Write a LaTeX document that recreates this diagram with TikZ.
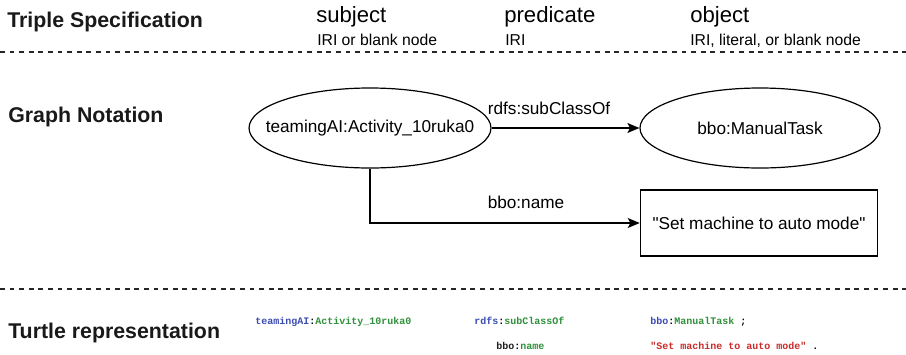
\documentclass[tikz,border=0pt]{standalone}
\usepackage{fontspec}
\setmainfont{Liberation Sans}
\setmonofont{Liberation Mono}
\usetikzlibrary{arrows.meta,positioning,shapes.geometric}
\definecolor{ttlblue}{HTML}{3A4BB2}
\definecolor{ttlgreen}{HTML}{2F8F3A}
\definecolor{ttlred}{HTML}{C92A2A}
\definecolor{ttlblack}{HTML}{1E1E1E}
\tikzset{
  relarrow/.style={-{Stealth[length=9pt,width=7.5pt,inset=2pt]}, line width=0.9pt, draw=black},
  sepline/.style={line width=0.8pt, dash pattern=on 3.6pt off 3.6pt, draw=black!85},
  heading/.style={anchor=base west, inner sep=0pt, font=\fontsize{16}{18}\selectfont\bfseries, text=black!90},
  colhead/.style={anchor=base west, inner sep=0pt, font=\fontsize{16.6}{19}\selectfont},
  colnote/.style={anchor=base west, inner sep=0pt, font=\fontsize{11.8}{14}\selectfont},
  resource/.style={ellipse, draw, line width=0.9pt, minimum width=180pt, minimum height=60pt,
    inner xsep=-14pt, inner ysep=0pt, font=\fontsize{12.9}{15}\selectfont},
  literal/.style={rectangle, draw, line width=0.9pt, minimum width=178pt, minimum height=49.5pt,
    inner sep=0pt, font=\fontsize{12.9}{15}\selectfont},
  rellabel/.style={inner sep=1pt, font=\fontsize{12.9}{15}\selectfont},
  ttl/.style={anchor=base west, inner sep=0pt, font=\fontsize{7.5}{9}\selectfont\ttfamily\bfseries}
}
\newcommand{\pfx}[1]{\textcolor{ttlblue}{#1}}
\newcommand{\lcl}[1]{\textcolor{ttlgreen}{#1}}

\begin{document}
\begin{tikzpicture}[x=0.75pt,y=-0.75pt]
    \useasboundingbox (0,0) rectangle (906,354);

    % header row
    \node[heading] (spec) at (7,27) {Triple Specification};
    \node[colhead] (subj) at (316,22) {subject};
    \node[colhead] (pred) at (504,22) {predicate};
    \node[colhead] (obj) at (690,22) {object};
    \node[colnote] (subjnote) at (317,45) {IRI or blank node};
    \node[colnote] (prednote) at (505,45) {IRI};
    \node[colnote] (objnote) at (690,45) {IRI, literal, or blank node};
    \draw[sepline] (0,52) -- (906,52);

    % graph
    \node[heading] (graph) at (8,122) {Graph Notation};
    \node[resource, minimum width=177pt] (activity) at (370,128) {teamingAI:Activity\_10ruka0};
    \node[resource] (task) at (760,128) {bbo:ManualTask};
    \node[literal] (label) at (759,223) {\textquotedbl Set machine to auto mode\textquotedbl};
    \node[rellabel] (subcls) at (549,108) {rdfs:subClassOf};
    \node[rellabel] (name) at (526,202) {bbo:name};

    \draw[relarrow] (activity) -- (task);
    \draw[relarrow] (activity.south) |- (label.west);
    \draw[sepline] (0,289) -- (906,289);

    % turtle
    \node[heading] (turtle) at (8,338) {Turtle representation};
    \node[ttl] (tsubj) at (255,324) {\pfx{teamingAI}:\lcl{Activity\_10ruka0}};
    \node[ttl] (tpred) at (474,324) {\pfx{rdfs}:\lcl{subClassOf}};
    \node[ttl] (tobj) at (650,324) {\pfx{bbo}:\lcl{ManualTask} ;};
    \node[ttl] (tpred2) at (496,349) {\textcolor{ttlblack}{bbo}:\lcl{name}};
    \node[ttl] (tobj2) at (650,349) {\textcolor{ttlred}{"Set machine to auto mode"} .};
\end{tikzpicture}
\end{document}
